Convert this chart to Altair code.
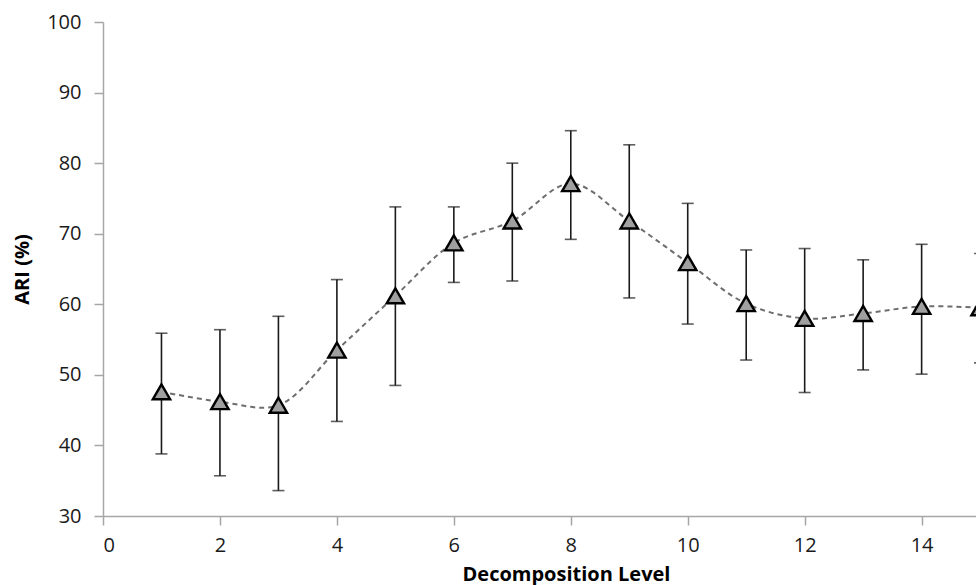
import altair as alt
import pandas as pd

# Mean ARI per decomposition level, with error-bar bounds
level = [1, 2, 3, 4, 5, 6, 7, 8, 9, 10, 11, 12, 13, 14, 15]
ari = [47.6, 46.2, 45.7, 53.5, 61.2, 68.7, 71.8, 77.1, 71.8, 65.9, 60.1, 58.0, 58.7, 59.7, 59.5]
lower = [38.8, 35.7, 33.6, 43.4, 48.5, 63.1, 63.3, 69.2, 60.9, 57.2, 52.1, 47.5, 50.7, 50.1, 51.7]
upper = [55.9, 56.4, 58.3, 63.5, 73.8, 73.8, 80.0, 84.6, 82.6, 74.3, 67.7, 67.9, 66.3, 68.5, 67.2]

x_ticks = [0, 2, 4, 6, 8, 10, 12, 14]
y_ticks = [30, 40, 50, 60, 70, 80, 90, 100]

df = pd.DataFrame({"level": level, "ari": ari, "lower": lower, "upper": upper})

FONT = "Open Sans"
TEXT = "#1a1a1a"
AXIS_GRAY = "#a6a6a6"

x_scale = alt.Scale(domain=[0, 14.93], nice=False, zero=False)
y_scale = alt.Scale(domain=[30, 100], nice=False, zero=False)

x_axis = alt.Axis(
    values=x_ticks, format="d", title="Decomposition Level", grid=False,
    domainColor=AXIS_GRAY, domainWidth=1.5, tickColor=AXIS_GRAY, tickWidth=1.5,
    tickSize=9, labelFont=FONT, labelFontSize=20, labelColor=TEXT, labelPadding=10,
    titleFont=FONT, titleFontSize=20, titleFontWeight="bold", titleColor="#000000",
    titleBaseline="alphabetic", titleY=64, titleX=463,
)
y_axis = alt.Axis(
    values=y_ticks, format="d", title="ARI (%)", grid=False,
    domainColor=AXIS_GRAY, domainWidth=1.5, tickColor=AXIS_GRAY, tickWidth=1.5,
    tickSize=9, labelFont=FONT, labelFontSize=20, labelColor=TEXT, labelPadding=13,
    titleFont=FONT, titleFontSize=20, titleFontWeight="bold", titleColor="#000000",
    titleBaseline="alphabetic", titleX=-75,
)

base = alt.Chart(df)

bars = base.mark_rule(color="#1a1a1a", strokeWidth=1.6, clip=True).encode(
    x=alt.X("level:Q", scale=x_scale, axis=x_axis),
    y=alt.Y("lower:Q", scale=y_scale, axis=y_axis),
    y2="upper:Q",
)

cap_lo = base.mark_tick(orient="horizontal", size=12, thickness=1.6,
                        color="#1a1a1a", clip=True).encode(
    x=alt.X("level:Q", scale=x_scale), y=alt.Y("lower:Q", scale=y_scale))
cap_hi = base.mark_tick(orient="horizontal", size=12, thickness=1.6,
                        color="#1a1a1a", clip=True).encode(
    x=alt.X("level:Q", scale=x_scale), y=alt.Y("upper:Q", scale=y_scale))

trend = base.mark_line(color="#6e6e6e", strokeWidth=2, strokeDash=[5, 4],
                       interpolate="catmull-rom", clip=True).encode(
    x=alt.X("level:Q", scale=x_scale), y=alt.Y("ari:Q", scale=y_scale))

points = base.mark_point(shape="triangle-up", size=300, filled=True,
                         fill="#a0a0a0", stroke="#000000", strokeWidth=2.4,
                         opacity=1, fillOpacity=1, clip=True).encode(
    x=alt.X("level:Q", scale=x_scale), y=alt.Y("ari:Q", scale=y_scale))

chart = alt.layer(bars, cap_lo, cap_hi, trend, points).properties(
    width=873, height=494,
    autosize=alt.AutoSizeParams(type="none"),
    padding={"left": 103, "top": 22, "right": 0, "bottom": 69},
    background="white",
).configure_view(stroke=None)

chart.save("out.html", embed_options={"renderer": "svg", "actions": False})
